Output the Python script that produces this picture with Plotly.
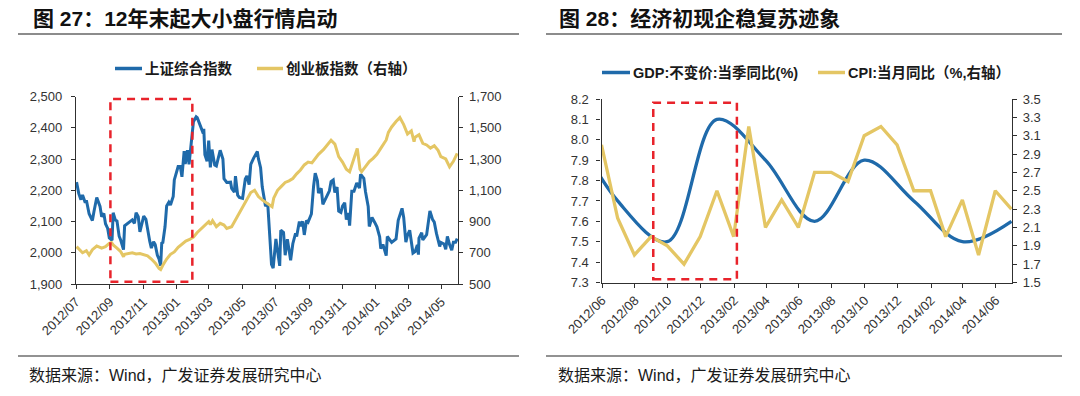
import plotly.graph_objects as go

# ---------------- data: left panel ----------------
# Shanghai Composite (closes)
sse_dates = [
    "2012-07-02", "2012-07-06", "2012-07-10", "2012-07-13", "2012-07-18", "2012-07-20",
    "2012-07-25", "2012-07-31", "2012-08-03", "2012-08-08", "2012-08-14", "2012-08-17",
    "2012-08-21", "2012-08-24", "2012-08-28", "2012-08-31", "2012-09-05", "2012-09-07",
    "2012-09-11", "2012-09-14", "2012-09-18", "2012-09-21", "2012-09-26", "2012-09-28",
    "2012-10-12", "2012-10-16", "2012-10-19", "2012-10-23", "2012-10-26", "2012-11-02",
    "2012-11-06", "2012-11-09", "2012-11-13", "2012-11-16", "2012-11-20", "2012-11-23",
    "2012-11-27", "2012-11-30", "2012-12-03", "2012-12-05", "2012-12-07", "2012-12-11",
    "2012-12-14", "2012-12-18", "2012-12-21", "2012-12-26", "2012-12-28", "2013-01-04",
    "2013-01-08", "2013-01-11", "2013-01-15", "2013-01-17", "2013-01-21", "2013-01-24",
    "2013-01-29", "2013-02-01", "2013-02-06", "2013-02-08", "2013-02-19", "2013-02-20",
    "2013-02-22", "2013-02-26", "2013-03-01", "2013-03-04", "2013-03-07", "2013-03-12",
    "2013-03-15", "2013-03-19", "2013-03-22", "2013-03-27", "2013-03-29", "2013-04-03",
    "2013-04-10", "2013-04-12", "2013-04-17", "2013-04-19", "2013-04-23", "2013-04-26",
    "2013-05-02", "2013-05-07", "2013-05-10", "2013-05-14", "2013-05-17", "2013-05-22",
    "2013-05-29", "2013-05-31", "2013-06-04", "2013-06-07", "2013-06-13", "2013-06-17",
    "2013-06-20", "2013-06-24", "2013-06-27", "2013-07-02", "2013-07-05", "2013-07-09",
    "2013-07-11", "2013-07-16", "2013-07-19", "2013-07-23", "2013-07-26", "2013-07-29",
    "2013-08-02", "2013-08-07", "2013-08-09", "2013-08-14", "2013-08-16", "2013-08-20",
    "2013-08-23", "2013-08-27", "2013-08-30", "2013-09-05", "2013-09-09", "2013-09-12",
    "2013-09-16", "2013-09-18", "2013-09-23", "2013-09-26", "2013-10-08", "2013-10-11",
    "2013-10-15", "2013-10-18", "2013-10-22", "2013-10-25", "2013-10-29", "2013-11-01",
    "2013-11-05", "2013-11-08", "2013-11-12", "2013-11-14", "2013-11-18", "2013-11-22",
    "2013-11-27", "2013-12-02", "2013-12-04", "2013-12-10", "2013-12-13", "2013-12-18",
    "2013-12-20", "2013-12-25", "2013-12-30", "2014-01-03", "2014-01-08", "2014-01-10",
    "2014-01-14", "2014-01-17", "2014-01-20", "2014-01-22", "2014-01-28", "2014-01-30",
    "2014-02-07", "2014-02-11", "2014-02-18", "2014-02-21", "2014-02-25", "2014-02-28",
    "2014-03-04", "2014-03-10", "2014-03-14", "2014-03-18", "2014-03-20", "2014-03-21",
    "2014-03-26", "2014-03-28", "2014-04-04", "2014-04-10", "2014-04-15", "2014-04-18",
    "2014-04-22", "2014-04-28", "2014-04-30", "2014-05-06", "2014-05-09", "2014-05-12",
    "2014-05-16", "2014-05-20", "2014-05-23", "2014-05-27", "2014-05-30",
]
sse_close = [
    2226, 2190, 2170, 2185, 2160, 2168,
    2125, 2103, 2133, 2177, 2148, 2115,
    2126, 2093, 2078, 2047, 2040, 2128,
    2105, 2102, 2053, 2040, 2010, 2086,
    2105, 2094, 2128, 2115, 2067, 2117,
    2107, 2070, 2037, 2015, 2035, 2026,
    1992, 1980, 1959, 2031, 2033, 2083,
    2150, 2162, 2153, 2180, 2233, 2276,
    2276, 2243, 2325, 2284, 2328, 2283,
    2382, 2419, 2435, 2432, 2382, 2397,
    2314, 2293, 2359, 2273, 2330, 2281,
    2278, 2310, 2328, 2300, 2237, 2225,
    2226, 2206, 2194, 2245, 2184, 2177,
    2174, 2236, 2246, 2218, 2283, 2302,
    2324, 2301, 2272, 2211, 2149, 2159,
    2084, 1963, 1951, 2044, 2007, 1958,
    2072, 2065, 1992, 2043, 2010, 1976,
    2029, 2062, 2052, 2100, 2085, 2100,
    2057, 2103, 2098, 2124, 2212, 2255,
    2231, 2191, 2206, 2155, 2198, 2228,
    2233, 2193, 2210, 2133, 2129, 2149,
    2160, 2106, 2127, 2087, 2197, 2197,
    2223, 2207, 2251, 2238, 2196, 2148,
    2084, 2113, 2097, 2083, 2051, 2013,
    2027, 2004, 1991, 2052, 2038, 2033,
    2044, 2104, 2142, 2113, 2034, 2056,
    2072, 1999, 2004, 2025, 1994, 2047,
    2064, 2041, 2058, 2134, 2106, 2098,
    2062, 2020, 2033, 2028, 2011, 2052,
    2026, 2008, 2034, 2034, 2045,
]
# ChiNext index (right axis)
cyb_dates = [
    "2012-07-02", "2012-07-06", "2012-07-13", "2012-07-20", "2012-07-25", "2012-07-31",
    "2012-08-03", "2012-08-08", "2012-08-14", "2012-08-17", "2012-08-24", "2012-08-31",
    "2012-09-04", "2012-09-07", "2012-09-14", "2012-09-21", "2012-09-26", "2012-09-28",
    "2012-10-12", "2012-10-19", "2012-10-26", "2012-11-02", "2012-11-09", "2012-11-16",
    "2012-11-23", "2012-11-30", "2012-12-03", "2012-12-07", "2012-12-14", "2012-12-21",
    "2012-12-28", "2013-01-04", "2013-01-11", "2013-01-18", "2013-01-25", "2013-02-01",
    "2013-02-08", "2013-02-20", "2013-02-22", "2013-03-01", "2013-03-04", "2013-03-08",
    "2013-03-15", "2013-03-22", "2013-03-29", "2013-04-03", "2013-04-12", "2013-04-19",
    "2013-04-26", "2013-05-03", "2013-05-10", "2013-05-17", "2013-05-24", "2013-05-31",
    "2013-06-07", "2013-06-14", "2013-06-21", "2013-06-25", "2013-06-28", "2013-07-05",
    "2013-07-12", "2013-07-19", "2013-07-26", "2013-08-02", "2013-08-09", "2013-08-16",
    "2013-08-23", "2013-08-30", "2013-09-06", "2013-09-12", "2013-09-18", "2013-09-27",
    "2013-10-11", "2013-10-18", "2013-10-25", "2013-11-01", "2013-11-08", "2013-11-14",
    "2013-11-22", "2013-11-28", "2013-12-03", "2013-12-06", "2013-12-13", "2013-12-20",
    "2013-12-27", "2014-01-03", "2014-01-10", "2014-01-17", "2014-01-20", "2014-01-24",
    "2014-01-30", "2014-02-07", "2014-02-14", "2014-02-21", "2014-02-28", "2014-03-07",
    "2014-03-12", "2014-03-14", "2014-03-21", "2014-03-28", "2014-04-04", "2014-04-11",
    "2014-04-18", "2014-04-25", "2014-04-30", "2014-05-09", "2014-05-16", "2014-05-23",
    "2014-05-30",
]
cyb_close = [
    739, 725, 700, 713, 686, 720,
    728, 743, 735, 730, 739, 760,
    765, 750, 730, 707, 675, 690,
    700, 692, 695, 686, 680, 660,
    635, 600, 593, 620, 660, 690,
    705, 735, 755, 775, 785, 800,
    830, 870, 877, 899, 880, 905,
    867, 888, 877, 856, 867, 910,
    960, 1000, 1040, 1085, 1100, 1060,
    1038, 1020, 1000, 995, 1049, 1100,
    1125, 1150, 1160, 1175, 1205, 1230,
    1262, 1280, 1275, 1300, 1330, 1360,
    1420, 1395, 1315, 1280, 1235, 1219,
    1300, 1368, 1235, 1219, 1251, 1283,
    1304, 1330, 1368, 1411, 1422, 1470,
    1505, 1540, 1565, 1520, 1460, 1480,
    1411, 1440, 1455, 1400, 1390, 1370,
    1385, 1355, 1315, 1300, 1250, 1285,
    1336,
]
left_tick_dates = ["2012-07-01", "2012-09-01", "2012-11-01", "2013-01-01", "2013-03-01",
                   "2013-05-01", "2013-07-01", "2013-09-01", "2013-11-01", "2014-01-01",
                   "2014-03-01", "2014-05-01"]
left_tick_text = ["2012/07", "2012/09", "2012/11", "2013/01", "2013/03", "2013/05",
                  "2013/07", "2013/09", "2013/11", "2014/01", "2014/03", "2014/05"]
left_x_range = ["2012-07-01", "2014-06-01"]
left_box = ["2012-09-02", "2013-01-30", 1907, 2492]

# ---------------- data: right panel (macro) ----------------
gdp_dates = ["2012-03-31", "2012-06-30", "2012-09-30", "2012-12-31", "2013-03-31",
             "2013-06-30", "2013-09-30", "2013-12-31", "2014-03-31", "2014-06-30"]
gdp_yoy = [8.1, 7.7, 7.5, 8.1, 7.9, 7.6, 7.9, 7.7, 7.5, 7.6]
cpi_dates = ["2012-05-31", "2012-06-30", "2012-07-31", "2012-08-31", "2012-09-30",
             "2012-10-31", "2012-11-30", "2012-12-31", "2013-01-31", "2013-02-28",
             "2013-03-31", "2013-04-30", "2013-05-31", "2013-06-30", "2013-07-31",
             "2013-08-31", "2013-09-30", "2013-10-31", "2013-11-30", "2013-12-31",
             "2014-01-31", "2014-02-28", "2014-03-31", "2014-04-30", "2014-05-31",
             "2014-06-30"]
cpi_yoy = [3.0, 2.2, 1.8, 2.0, 1.9, 1.7, 2.0, 2.5, 2.0, 3.2, 2.1, 2.4, 2.1,
           2.7, 2.7, 2.6, 3.1, 3.2, 3.0, 2.5, 2.5, 2.0, 2.4, 1.8, 2.5, 2.3]
right_tick_dates = ["2012-06-01", "2012-08-01", "2012-10-01", "2012-12-01", "2013-02-01",
                    "2013-04-01", "2013-06-01", "2013-08-01", "2013-10-01", "2013-12-01",
                    "2014-02-01", "2014-04-01", "2014-06-01"]
right_tick_text = ["2012/06", "2012/08", "2012/10", "2012/12", "2013/02", "2013/04",
                   "2013/06", "2013/08", "2013/10", "2013/12", "2014/02", "2014/04",
                   "2014/06"]
right_x_range = ["2012-05-31", "2014-07-01"]
right_box = ["2012-09-04", "2013-02-06", 7.316, 8.182]

# ---------------- styling ----------------
# the page body has an 8px margin, so the figure is drawn 8px in from the top-left
OFF = 8
W, H = 1080 - OFF, 396 - OFF
BLUE = "#1F6AAA"
YELLOW = "#E4C664"
RED = "#E8232B"
AXIS = "#303030"
TICKFONT = dict(family="Liberation Sans, Arial, sans-serif", size=13, color="#333333")
CJK = "Liberation Sans, Noto Sans CJK SC, sans-serif"


def px_x(p):
    return (p - OFF) / W


def px_y(p):
    return 1 - (p - OFF) / H


fig = go.Figure()
fig.add_trace(go.Scatter(x=sse_dates, y=sse_close, mode="lines", name="上证综合指数",
                         line=dict(color=BLUE, width=3), xaxis="x", yaxis="y"))
fig.add_trace(go.Scatter(x=cyb_dates, y=cyb_close, mode="lines", name="创业板指数（右轴）",
                         line=dict(color=YELLOW, width=3), xaxis="x", yaxis="y2"))
fig.add_trace(go.Scatter(x=gdp_dates, y=gdp_yoy, mode="lines", name="GDP:不变价:当季同比(%)",
                         line=dict(color=BLUE, width=3.3, shape="spline", smoothing=1.0),
                         xaxis="x2", yaxis="y3"))
fig.add_trace(go.Scatter(x=cpi_dates, y=cpi_yoy, mode="lines", name="CPI:当月同比（%,右轴）",
                         line=dict(color=YELLOW, width=3.3), xaxis="x2", yaxis="y4"))

common_x = dict(type="date", showline=True, linecolor=AXIS, linewidth=1.3, ticks="outside",
                ticklen=4, tickcolor=AXIS, showgrid=False, zeroline=False, tickangle=-45,
                tickfont=dict(family="Liberation Sans, Arial, sans-serif", size=13,
                              color="#333333"), tickmode="array")
common_y = dict(showline=True, linecolor=AXIS, linewidth=1.3, ticks="outside", ticklen=4,
                tickcolor=AXIS, showgrid=False, zeroline=False, tickfont=TICKFONT)

fig.update_layout(
    width=W, height=H, margin=dict(l=0, r=0, t=0, b=0, autoexpand=False),
    paper_bgcolor="white", plot_bgcolor="white", showlegend=False,
    xaxis=dict(common_x, domain=[px_x(76), px_x(458.3)], range=left_x_range,
               tickvals=left_tick_dates, ticktext=left_tick_text, anchor="y"),
    yaxis=dict(common_y, domain=[px_y(284), px_y(96.5)], range=[1900, 2500], dtick=100,
               tickformat=",", anchor="x", ticklabelstandoff=6),
    yaxis2=dict(common_y, overlaying="y", side="right", range=[500, 1700], dtick=200,
                tick0=500, tickformat=",", anchor="x", ticklabelstandoff=3),
    xaxis2=dict(common_x, domain=[px_x(601.5), px_x(1012)], range=right_x_range,
                tickvals=right_tick_dates, ticktext=right_tick_text, anchor="y3"),
    yaxis3=dict(common_y, domain=[px_y(282.5), px_y(99)], range=[7.3, 8.2], dtick=0.1,
                tick0=7.3, tickformat=".1f", anchor="x2", ticklabelstandoff=5),
    yaxis4=dict(common_y, overlaying="y3", side="right", range=[1.5, 3.5], dtick=0.2,
                tick0=1.5, tickformat=".1f", anchor="x2", ticklabelstandoff=3),
)

shapes = []
# highlight boxes
shapes.append(dict(type="rect", xref="x", yref="y", x0=left_box[0], x1=left_box[1],
                   y0=left_box[2], y1=left_box[3],
                   line=dict(color=RED, width=2.5, dash="8px,6px")))
shapes.append(dict(type="rect", xref="x2", yref="y3", x0=right_box[0], x1=right_box[1],
                   y0=right_box[2], y1=right_box[3],
                   line=dict(color=RED, width=2.5, dash="8px,6px")))
# header / footer rules
for (a, b) in [(18, 519), (546, 1062)]:
    shapes.append(dict(type="line", xref="paper", yref="paper", x0=px_x(a), x1=px_x(b),
                       y0=px_y(34), y1=px_y(34), line=dict(color="#8C8C8C", width=2)))
    shapes.append(dict(type="line", xref="paper", yref="paper", x0=px_x(a), x1=px_x(b),
                       y0=px_y(356), y1=px_y(356), line=dict(color="#6E6E6E", width=1.3)))
# legend swatches
legend_items = [
    (115, 142, 68.5, BLUE, "上证综合指数"),
    (257, 283, 68.5, YELLOW, "创业板指数（右轴）"),
    (602, 630, 72.5, BLUE, "GDP:不变价:当季同比(%)"),
    (818, 845, 72.5, YELLOW, "CPI:当月同比（%,右轴）"),
]
annotations = []
for (a, b, yy, col, label) in legend_items:
    shapes.append(dict(type="line", xref="paper", yref="paper", x0=px_x(a), x1=px_x(b),
                       y0=px_y(yy), y1=px_y(yy), line=dict(color=col, width=3.5)))
    annotations.append(dict(xref="paper", yref="paper", x=px_x(b + 1), y=px_y(yy),
                            xanchor="left", yanchor="middle", showarrow=False,
                            text="<b>" + label + "</b>",
                            font=dict(family=CJK, size=14.5, color="#1a1a1a")))

titles = [(31, "图 27：12年末起大小盘行情启动"), (557, "图 28：经济初现企稳复苏迹象")]
for (xx, t) in titles:
    annotations.append(dict(xref="paper", yref="paper", x=px_x(xx), y=px_y(18),
                            xanchor="left", yanchor="middle", showarrow=False,
                            text="<b>" + t + "</b>",
                            font=dict(family=CJK, size=21, color="#111111")))
for xx in (27, 556):
    annotations.append(dict(xref="paper", yref="paper", x=px_x(xx), y=px_y(375),
                            xanchor="left", yanchor="middle", showarrow=False,
                            text="数据来源：Wind，广发证券发展研究中心",
                            font=dict(family=CJK, size=16, color="#1a1a1a")))

fig.update_layout(shapes=shapes, annotations=annotations)
fig.write_html("out.html")
